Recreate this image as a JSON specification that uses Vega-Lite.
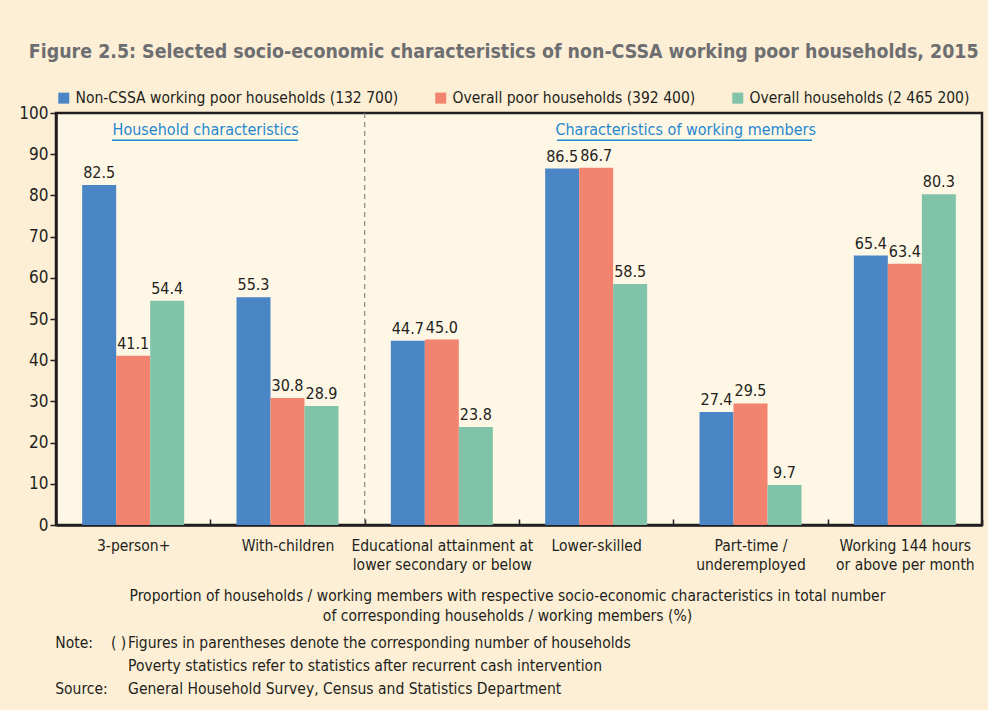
{
  "$schema": "https://vega.github.io/schema/vega-lite/v6.json",
  "width": 926,
  "height": 412,
  "autosize": {"type": "none"},
  "padding": {"left": 56, "top": 113, "right": 6, "bottom": 185},
  "background": "#FDEFD5",
  "config": {
    "font": "DejaVu Sans Condensed, sans-serif",
    "view": {"fill": "#FFF7E6", "stroke": "#231F20", "strokeWidth": 2.5},
    "text": {"font": "DejaVu Sans Condensed, sans-serif"}
  },
  "title": {
    "text": "Figure 2.5: Selected socio-economic characteristics of non-CSSA working poor households, 2015",
    "anchor": "start",
    "dx": 10,
    "fontSize": 19.4,
    "fontWeight": "bold",
    "color": "#6D6E71",
    "offset": 28
  },
  "datasets": {
    "bars": [
      {"category": "3-person+", "series": "Non-CSSA working poor households (132 700)", "value": 82.5},
      {"category": "3-person+", "series": "Overall poor households (392 400)", "value": 41.1},
      {"category": "3-person+", "series": "Overall households (2 465 200)", "value": 54.4},
      {"category": "With-children", "series": "Non-CSSA working poor households (132 700)", "value": 55.3},
      {"category": "With-children", "series": "Overall poor households (392 400)", "value": 30.8},
      {"category": "With-children", "series": "Overall households (2 465 200)", "value": 28.9},
      {"category": "Educational attainment at|lower secondary or below", "series": "Non-CSSA working poor households (132 700)", "value": 44.7},
      {"category": "Educational attainment at|lower secondary or below", "series": "Overall poor households (392 400)", "value": 45.0},
      {"category": "Educational attainment at|lower secondary or below", "series": "Overall households (2 465 200)", "value": 23.8},
      {"category": "Lower-skilled", "series": "Non-CSSA working poor households (132 700)", "value": 86.5},
      {"category": "Lower-skilled", "series": "Overall poor households (392 400)", "value": 86.7},
      {"category": "Lower-skilled", "series": "Overall households (2 465 200)", "value": 58.5},
      {"category": "Part-time /|underemployed", "series": "Non-CSSA working poor households (132 700)", "value": 27.4},
      {"category": "Part-time /|underemployed", "series": "Overall poor households (392 400)", "value": 29.5},
      {"category": "Part-time /|underemployed", "series": "Overall households (2 465 200)", "value": 9.7},
      {"category": "Working 144 hours|or above per month", "series": "Non-CSSA working poor households (132 700)", "value": 65.4},
      {"category": "Working 144 hours|or above per month", "series": "Overall poor households (392 400)", "value": 63.4},
      {"category": "Working 144 hours|or above per month", "series": "Overall households (2 465 200)", "value": 80.3}
    ],
    "notes": [
      {"col": "head", "line": 1, "text": "Note:"},
      {"col": "mark", "line": 1, "text": "( )"},
      {"col": "body", "line": 1, "text": "Figures in parentheses denote the corresponding number of households"},
      {"col": "body", "line": 2, "text": "Poverty statistics refer to statistics after recurrent cash intervention"},
      {"col": "head", "line": 3, "text": "Source:"},
      {"col": "body", "line": 3, "text": "General Household Survey, Census and Statistics Department"}
    ]
  },
  "layer": [
    {
      "data": {"name": "bars"},
      "encoding": {
        "x": {
          "field": "category",
          "type": "nominal",
          "sort": null,
          "scale": {"paddingInner": 0, "paddingOuter": 0},
          "axis": {
            "title": ["Proportion of households / working members with respective socio-economic characteristics in total number", "of corresponding households / working members (%)"],
            "titleFontSize": 15.5,
            "titleFontWeight": "normal",
            "titleColor": "#231F20",
            "titleLineHeight": 20,
            "titlePadding": 16,
            "titleX": 451,
            "labelExpr": "datum.value ? split(datum.value, '|') : ''",
            "labelAngle": 0,
            "labelFontSize": 15.5,
            "labelColor": "#231F20",
            "labelLineHeight": 19,
            "labelPadding": 19,
            "labelLimit": 400,
            "tickBand": "extent",
            "tickSize": -6,
            "tickColor": "#231F20",
            "tickWidth": 1.5,
            "domainColor": "#231F20",
            "domainWidth": 2.5
          }
        },
        "xOffset": {
          "field": "series",
          "type": "nominal",
          "sort": ["Non-CSSA working poor households (132 700)", "Overall poor households (392 400)", "Overall households (2 465 200)"],
          "scale": {"paddingInner": 0, "paddingOuter": 0.77}
        },
        "y": {
          "field": "value",
          "type": "quantitative",
          "scale": {"domain": [0, 100], "nice": false},
          "axis": {
            "title": null,
            "values": [0, 10, 20, 30, 40, 50, 60, 70, 80, 90, 100],
            "grid": false,
            "labelFontSize": 17,
            "labelColor": "#231F20",
            "labelPadding": 2,
            "tickSize": 6,
            "tickColor": "#231F20",
            "tickWidth": 1.5,
            "domainColor": "#231F20",
            "domainWidth": 2.5
          }
        },
        "color": {
          "field": "series",
          "type": "nominal",
          "sort": ["Non-CSSA working poor households (132 700)", "Overall poor households (392 400)", "Overall households (2 465 200)"],
          "scale": {"range": ["#4A86C5", "#F2836F", "#80C3A9"]},
          "legend": {
            "title": null,
            "orient": "top",
            "direction": "horizontal",
            "symbolType": "square",
            "symbolSize": 121,
            "symbolStrokeWidth": 0,
            "symbolOpacity": 1,
            "labelFontSize": 15.5,
            "labelColor": "#231F20",
            "labelOffset": 4,
            "labelLimit": 500,
            "columnPadding": 34,
            "offset": 6,
            "padding": 0
          }
        }
      },
      "layer": [
        {"mark": {"type": "bar", "opacity": 1}},
        {
          "mark": {"type": "text", "baseline": "bottom", "dy": -4, "fontSize": 16, "color": "#231F20"},
          "encoding": {"text": {"field": "value", "type": "quantitative", "format": ".1f"}, "color": {"value": "#231F20"}}
        }
      ]
    },
    {
      "data": {"values": [{}]},
      "encoding": {},
      "layer": [
        {
          "mark": {"type": "rule", "color": "#888888", "strokeDash": [5, 4], "strokeWidth": 1.2},
          "encoding": {"x": {"datum": 2, "type": "quantitative", "scale": {"domain": [0, 6]}, "axis": null}}
        },
        {
          "mark": {"type": "text", "align": "center", "baseline": "middle", "fontSize": 16, "color": "#1F87CF"},
          "encoding": {
            "x": {"datum": 0.97, "type": "quantitative", "scale": {"domain": [0, 6]}, "axis": null},
            "y": {"datum": 95.9, "type": "quantitative", "scale": {"domain": [0, 100], "nice": false}, "axis": null},
            "text": {"value": "Household characteristics"}
          }
        },
        {
          "mark": {"type": "rule", "color": "#1F87CF", "strokeWidth": 1.5},
          "encoding": {
            "x": {"datum": 0.363, "type": "quantitative", "scale": {"domain": [0, 6]}, "axis": null},
            "x2": {"datum": 1.568},
            "y": {"datum": 93.4, "type": "quantitative", "scale": {"domain": [0, 100], "nice": false}, "axis": null}
          }
        },
        {
          "mark": {"type": "text", "align": "center", "baseline": "middle", "fontSize": 16, "color": "#1F87CF"},
          "encoding": {
            "x": {"datum": 4.08, "type": "quantitative", "scale": {"domain": [0, 6]}, "axis": null},
            "y": {"datum": 95.9, "type": "quantitative", "scale": {"domain": [0, 100], "nice": false}, "axis": null},
            "text": {"value": "Characteristics of working members"}
          }
        },
        {
          "mark": {"type": "rule", "color": "#1F87CF", "strokeWidth": 1.5},
          "encoding": {
            "x": {"datum": 3.246, "type": "quantitative", "scale": {"domain": [0, 6]}, "axis": null},
            "x2": {"datum": 4.899},
            "y": {"datum": 93.4, "type": "quantitative", "scale": {"domain": [0, 100], "nice": false}, "axis": null}
          }
        }
      ]
    },
    {
      "data": {"name": "notes"},
      "encoding": {
        "y": {"field": "line", "type": "quantitative", "scale": {"domain": [1, 3], "range": [530, 576], "zero": false, "nice": false}, "axis": null},
        "text": {"field": "text", "type": "nominal"}
      },
      "layer": [
        {
          "transform": [{"filter": "datum.col == 'head'"}],
          "mark": {"type": "text", "align": "left", "baseline": "middle", "fontSize": 15.5, "color": "#231F20"},
          "encoding": {"x": {"datum": -0.005, "type": "quantitative", "scale": {"domain": [0, 6]}, "axis": null}}
        },
        {
          "transform": [{"filter": "datum.col == 'mark'"}],
          "mark": {"type": "text", "align": "left", "baseline": "middle", "fontSize": 15.5, "color": "#231F20"},
          "encoding": {"x": {"datum": 0.356, "type": "quantitative", "scale": {"domain": [0, 6]}, "axis": null}}
        },
        {
          "transform": [{"filter": "datum.col == 'body'"}],
          "mark": {"type": "text", "align": "left", "baseline": "middle", "fontSize": 15.5, "color": "#231F20"},
          "encoding": {"x": {"datum": 0.467, "type": "quantitative", "scale": {"domain": [0, 6]}, "axis": null}}
        }
      ]
    }
  ],
  "resolve": {"scale": {"x": "independent", "y": "independent", "color": "independent"}}
}
